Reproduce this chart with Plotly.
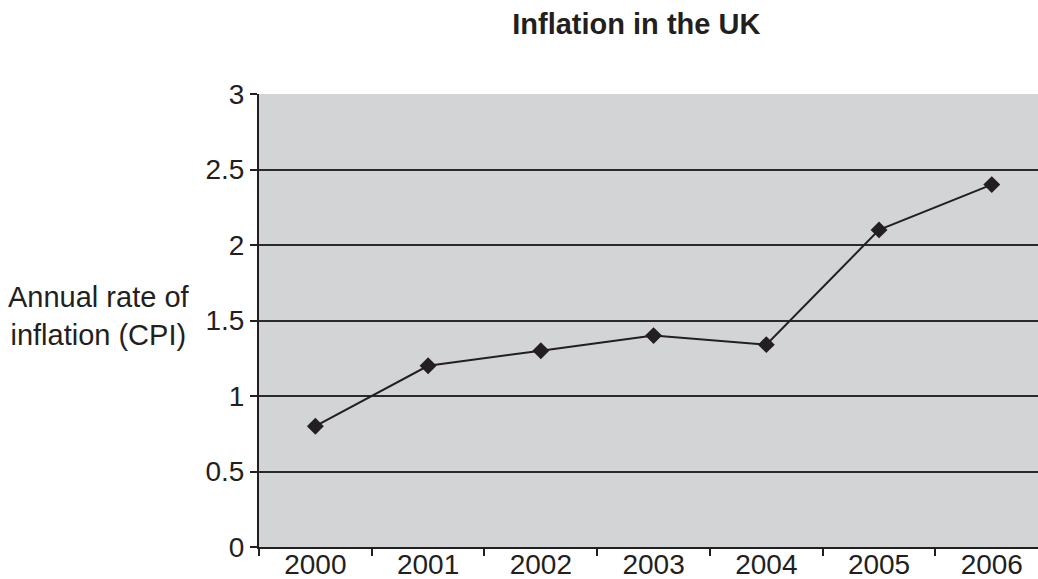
import plotly.graph_objects as go

# Annual CPI inflation, UK
years = ["2000", "2001", "2002", "2003", "2004", "2005", "2006"]
cpi_rate = [0.8, 1.2, 1.3, 1.4, 1.34, 2.1, 2.4]
y_ticks = [0, 0.5, 1, 1.5, 2, 2.5, 3]

INK = "#231f20"
FONT = "Liberation Sans, Arial, sans-serif"

fig = go.Figure(
    go.Scatter(
        x=years,
        y=cpi_rate,
        mode="lines+markers",
        line=dict(color=INK, width=2),
        marker=dict(symbol="diamond", size=13, color=INK),
        hoverinfo="x+y",
    )
)

fig.update_layout(
    width=1038,
    height=579,
    margin=dict(l=259, r=0, t=94, b=32, autoexpand=False),
    paper_bgcolor="white",
    plot_bgcolor="#d3d4d6",
    showlegend=False,
    font=dict(family=FONT, size=28, color=INK),
    title=dict(
        text="<b>Inflation in the UK</b>",
        x=0.613,
        xanchor="center",
        y=0.958,
        yanchor="middle",
        font=dict(family=FONT, size=29, color=INK),
    ),
)

fig.update_xaxes(
    type="category",
    range=[-0.5, 6.41],
    automargin=False,
    showgrid=False,
    showline=True,
    linecolor=INK,
    linewidth=2,
    ticks="outside",
    tickson="boundaries",
    ticklen=7,
    tickwidth=1.5,
    tickcolor=INK,
    tickfont=dict(size=28),
    ticklabelstandoff=-9,
    zeroline=False,
)

fig.update_yaxes(
    range=[0, 3],
    automargin=False,
    tickvals=y_ticks,
    showgrid=True,
    gridcolor="#2a2a2a",
    gridwidth=1.5,
    showline=True,
    linecolor=INK,
    linewidth=2,
    ticks="outside",
    ticklen=7,
    tickwidth=1.5,
    tickcolor=INK,
    tickfont=dict(size=28),
    zeroline=False,
)

fig.add_annotation(
    text="Annual rate of<br>inflation (CPI)",
    xref="paper",
    yref="paper",
    x=-0.2054,
    y=0.51,
    xanchor="center",
    yanchor="middle",
    align="center",
    showarrow=False,
    font=dict(family=FONT, size=29, color=INK),
)

fig.write_html("out.html")
